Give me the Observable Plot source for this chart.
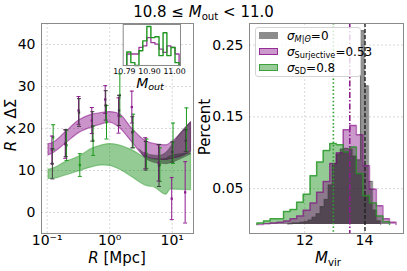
<!DOCTYPE html>
<html><head><meta charset="utf-8">
<script src="https://cdn.jsdelivr.net/npm/d3@7"></script>
<script src="https://cdn.jsdelivr.net/npm/@observablehq/plot@0.6"></script>
<style>
body{margin:0;background:#fff;}
#root{position:relative;width:407px;height:271px;font-family:'DejaVu Sans',sans-serif;color:#000;overflow:hidden;}
.abs{position:absolute;}
.lbl{position:absolute;white-space:nowrap;font-size:15px;line-height:14px;transform:translate(-50%,-50%);}
.rot{transform:translate(-50%,-50%) rotate(-90deg);}
sub{font-size:0.68em;vertical-align:-0.25em;line-height:0;}
.leg{position:absolute;left:255px;top:27px;width:104px;height:48px;border:1px solid #d4d4d4;border-radius:3px;background:rgba(255,255,255,0.8);}
.ent{position:absolute;left:0;height:16px;font-size:12px;line-height:16px;white-space:nowrap;}
.pat{position:absolute;left:3px;top:4px;width:19px;height:7px;}
.txt{position:absolute;left:31px;top:0;}
</style>
</head><body>
<div id="root">
  <div id="left" class="abs" style="left:0;top:0;width:200px;height:271px"></div>
  <div id="right" class="abs" style="left:200px;top:0;width:207px;height:271px"></div>
  <div id="inset" class="abs" style="left:105px;top:0;width:90px;height:90px"></div>
  <div class="abs" style="left:0;top:2px;width:407px;text-align:center;font-size:15px;line-height:20px">10.8 ≤ <i>M</i><sub>out</sub> &lt; 11.0</div>
  <div class="lbl" style="left:150px;top:83px;font-size:14px;line-height:14px"><i>M</i><sub><i>out</i></sub></div>
  <div class="lbl" style="left:117px;top:258px"><i>R</i> [Mpc]</div>
  <div class="lbl" style="left:328px;top:258px"><i>M</i><sub>vir</sub></div>
  <div class="lbl rot" style="left:11px;top:125px"><i>R</i> × ΔΣ</div>
  <div class="lbl rot" style="left:205px;top:127px">Percent</div>
  <div class="leg">
    <div class="ent" style="top:0px"><div class="pat" style="background:rgba(0,0,0,0.45)"></div><div class="txt"><i>σ</i><sub><i>M</i>|<i>Θ</i></sub>=0</div></div>
    <div class="ent" style="top:16px"><div class="pat" style="background:rgba(128,0,128,0.4);border:1px solid rgba(128,0,128,0.7);box-sizing:border-box"></div><div class="txt"><i>σ</i><sub>Surjective</sub>=0.53</div></div>
    <div class="ent" style="top:32px"><div class="pat" style="background:rgba(0,128,0,0.4);border:1px solid rgba(0,128,0,0.6);box-sizing:border-box"></div><div class="txt"><i>σ</i><sub>SD</sub>=0.8</div></div>
  </div>
</div>
<script>
// ---------- Left panel data ----------
const R = [0.121, 0.198, 0.323, 0.527, 0.863, 1.41, 2.30, 3.77, 6.15, 10.0, 16.4];
const purpleY   = [14.9, 16.3, 24.3, 21.9, 26.9, 23.1, 25.1, 14.1, 11.8, 3.3, 4.8];
const purpleErr = [3.3, 3.4, 3.3, 3.1, 3.3, 4.2, 3.8, 3.7, 4.3, 5.0, 7.3];
const blackY    = [11.6, 16.5, 23.8, 20.5, 25.5, 24.3, 19.1, 13.5, 11.2, 14.4, 17.1];
const blackErr  = [3.6, 3.2, 3.3, 3.5, 3.5, 3.6, 3.7, 3.4, 5.0, 2.4, 2.6];
const greenY    = [17.9, 16.0, 11.3, 17.1, 21.5, 27.9, 19.4, 14.0, 11.4, 16.5, 19.7];
const greenErr  = [3.0, 3.6, 2.7, 3.5, 4.0, 5.1, 4.0, 3.5, 4.0, 4.8, 5.2];

const bandR    = [0.105, 0.121, 0.198, 0.323, 0.527, 0.76, 1.0, 1.41, 2.30, 3.77, 6.15, 8.0, 10.0, 13.0, 20.0];
const purpleLo = [13.6, 14.0, 16.4, 18.9, 20.3, 21.0, 21.4, 20.3, 16.7, 13.2, 12.6, 12.5, 12.8, 13.2, 14.5];
const purpleHi = [16.3, 16.5, 19.1, 21.9, 23.3, 23.7, 23.9, 23.5, 19.9, 17.0, 16.1, 16.0, 16.8, 18.3, 21.5];
const greyR    = [3.0, 3.77, 6.15, 8.0, 10.0, 13.0, 20.0];
const greyLo   = [15.0, 12.8, 11.6, 11.5, 11.8, 12.5, 13.8];
const greyHi   = [15.0, 14.0, 13.5, 14.2, 16.0, 18.5, 21.5];
const greenR   = [0.105, 0.121, 0.198, 0.323, 0.527, 0.76, 1.0, 1.41, 2.30, 3.77, 5.5, 6.3, 8.0, 9.5, 13.0, 20.0];
const greenLo  = [8.0, 8.0, 8.8, 9.8, 10.8, 11.2, 11.1, 10.3, 8.4, 6.4, 5.8, 5.1, 4.2, 5.5, 5.4, 5.3];
const greenHi  = [10.2, 10.4, 12.0, 13.3, 15.2, 16.0, 16.3, 16.0, 14.8, 13.0, 12.6, 12.6, 12.8, 13.4, 13.8, 14.0];

const xTicksL = [0.1, 1, 10];
const xTickLabelsL = ["10⁻¹", "10⁰", "10¹"];
const yTicksL = [0, 10, 20, 30, 40];

// ---------- Inset data ----------
const insetEdges = [10.800, 10.817, 10.834, 10.851, 10.867, 10.884, 10.901, 10.918, 10.935, 10.952, 10.968, 10.985, 11.002, 11.019];
const insetGreen  = [0.33, 0.07, 0.0, 0.36, 0.60, 0.95, 0.68, 0.70, 0.24, 0.80, 0.24, 0.44, 0.07];
const insetPurple = [0.28, 0.28, 0.28, 0.44, 0.48, 0.68, 0.56, 0.52, 0.40, 0.32, 0.48, 0.44, 0.28];
const insetTicks = [10.79, 10.895, 11.0];
const insetTickLabels = ["10.79", "10.90", "11.00"];

// ---------- Right panel data ----------
const greenEdges = [10.40, 10.62, 10.84, 11.07, 11.29, 11.51, 11.73, 11.95, 12.18, 12.40, 12.62, 12.84, 13.06, 13.29, 13.51, 13.73, 13.95, 14.17, 14.40, 14.62, 14.84];
const greenPct   = [0.002, 0.005, 0.008, 0.008, 0.018, 0.021, 0.031, 0.042, 0.068, 0.087, 0.103, 0.113, 0.111, 0.101, 0.108, 0.071, 0.040, 0.030, 0.012, 0.004];
const purpleEdges = [10.40, 10.62, 10.84, 11.07, 11.29, 11.51, 11.73, 11.95, 12.18, 12.40, 12.62, 12.84, 13.06, 13.29, 13.51, 13.73, 13.95, 14.17, 14.40, 14.62, 14.84, 15.06];
const purplePct   = [0.0, 0.001, 0.002, 0.003, 0.005, 0.008, 0.012, 0.020, 0.030, 0.045, 0.060, 0.085, 0.100, 0.132, 0.138, 0.125, 0.082, 0.049, 0.026, 0.008, 0.003];
const greyEdges = [11.44, 11.575, 11.71, 11.845, 11.98, 12.115, 12.25, 12.385, 12.52, 12.655, 12.79, 12.925, 13.06, 13.195, 13.33, 13.465, 13.6, 13.735, 13.87, 14.005, 14.14, 14.275, 14.41, 14.545];
const greyPct   = [0.001, 0.002, 0.002, 0.003, 0.004, 0.006, 0.010, 0.015, 0.025, 0.035, 0.055, 0.085, 0.098, 0.105, 0.106, 0.105, 0.095, 0.090, 0.270, 0.193, 0.060, 0.020, 0.005];
const medians = [{m: 12.96, c: "#2ca02c", dash: "1.5,2.2", w: 1.6}, {m: 13.51, c: "#8e1f8e", dash: "6,2,1.5,2", w: 1.6}, {m: 14.02, c: "#222", dash: "4,2", w: 1.4}];
const xTicksR = [12, 14];
const yTicksR = [0.05, 0.15, 0.25];

// ---------- helpers ----------
const capSym = {draw(ctx, size) { const r = Math.sqrt(size / Math.PI); ctx.moveTo(-r, 0); ctx.lineTo(r, 0); }};
const zipBand = (xs, lo, hi) => xs.map((x, i) => ({x, lo: lo[i], hi: hi[i]}));
const errRows = (Y, E) => R.map((r, i) => ({x: r, y: Y[i], lo: Y[i] - E[i], hi: Y[i] + E[i]}));
function stepPts(edges, vals) {
  const p = [{x: edges[0], y: 0}];
  vals.forEach((v, i) => p.push({x: edges[i], y: v}));
  p.push({x: edges[vals.length], y: vals[vals.length - 1]});
  p.push({x: edges[vals.length], y: 0});
  return p;
}
function errMarks(rows, c, dx) {
  return [
    Plot.ruleX(rows, {x: "x", y1: "lo", y2: "hi", stroke: c, strokeWidth: 1, dx}),
    Plot.dot(rows, {x: "x", y: "lo", symbol: capSym, r: 2, stroke: c, fill: "none", strokeWidth: 1, dx}),
    Plot.dot(rows, {x: "x", y: "hi", symbol: capSym, r: 2, stroke: c, fill: "none", strokeWidth: 1, dx}),
    Plot.dot(rows, {x: "x", y: "y", symbol: "square", r: 1.3, fill: c, stroke: "none", dx})
  ];
}
const gridStyle = {stroke: "#cfcfcf", strokeWidth: 0.8, strokeDasharray: "2,2"};
const baseStyle = {fontFamily: "DejaVu Sans", fontSize: "14px", background: "none", overflow: "visible", color: "#000"};

// ---------- Left ----------
const left = Plot.plot({
  width: 200, height: 271,
  marginLeft: 41, marginRight: 7, marginTop: 23, marginBottom: 38,
  style: baseStyle,
  x: {type: "log", domain: [0.0811, 21.9], ticks: xTicksL, tickFormat: d => xTickLabelsL[xTicksL.indexOf(d)], tickSize: 0, tickPadding: 2, label: null},
  y: {domain: [-5, 45], ticks: yTicksL, tickSize: 0, tickPadding: 6, label: null},
  marks: [
    Plot.ruleX(xTicksL, gridStyle),
    Plot.ruleY(yTicksL, gridStyle),
    Plot.areaY(zipBand(greenR, greenLo, greenHi), {x: "x", y1: "lo", y2: "hi", curve: "monotone-x", fill: "#008000", fillOpacity: 0.42, stroke: "#2e9e2e", strokeOpacity: 0.45, strokeWidth: 1.2}),
    Plot.areaY(zipBand(bandR, purpleLo, purpleHi), {x: "x", y1: "lo", y2: "hi", curve: "monotone-x", fill: "#800080", fillOpacity: 0.42, stroke: "#800080", strokeOpacity: 0.5, strokeWidth: 1.2}),
    Plot.areaY(zipBand(greyR, greyLo, greyHi), {x: "x", y1: "lo", y2: "hi", curve: "monotone-x", fill: "#000", fillOpacity: 0.38, stroke: "#333", strokeOpacity: 0.3, strokeWidth: 1}),
    ...errMarks(errRows(greenY, greenErr), "#1a9a1a", 0.8),
    ...errMarks(errRows(purpleY, purpleErr), "#8e1a8e", -0.5),
    ...errMarks(errRows(blackY, blackErr), "#3c3c3c", 0),
    Plot.frame({stroke: "#8a8a8a", strokeWidth: 1})
  ]
});
document.getElementById("left").appendChild(left);

// ---------- Inset ----------
const inset = Plot.plot({
  width: 90, height: 90,
  marginLeft: 17.7, marginRight: 15, marginTop: 24, marginBottom: 25,
  style: {...baseStyle, fontSize: "7.8px"},
  x: {domain: [10.785, 11.025], ticks: insetTicks, tickFormat: d => insetTickLabels[insetTicks.indexOf(d)], tickSize: 0, tickPadding: 3, label: null},
  y: {domain: [0, 1.0], axis: null},
  marks: [
    Plot.frame({fill: "white", stroke: "none"}),
    Plot.line(stepPts(insetEdges, insetPurple), {x: "x", y: "y", curve: "step-after", stroke: "#9a3a9a", strokeWidth: 1.3}),
    Plot.line(stepPts(insetEdges, insetGreen), {x: "x", y: "y", curve: "step-after", stroke: "#1f961f", strokeWidth: 1.4}),
    Plot.frame({stroke: "#8a8a8a", strokeWidth: 1})
  ]
});
document.getElementById("inset").appendChild(inset);

// ---------- Right ----------
const right = Plot.plot({
  width: 207, height: 271,
  marginLeft: 49, marginRight: 4, marginTop: 23, marginBottom: 38,
  style: baseStyle,
  x: {domain: [10.15, 15.31], ticks: xTicksR, tickFormat: d => String(d), tickSize: 0, tickPadding: 2, label: null},
  y: {domain: [-0.0125, 0.28], ticks: yTicksR, tickFormat: d => d.toFixed(2), tickSize: 0, tickPadding: 6, label: null},
  marks: [
    Plot.ruleX(xTicksR, gridStyle),
    Plot.ruleY(yTicksR, gridStyle),
    Plot.areaY(stepPts(greenEdges, greenPct), {x: "x", y: "y", curve: "step-after", fill: "#008000", fillOpacity: 0.42}),
    Plot.areaY(stepPts(purpleEdges, purplePct), {x: "x", y: "y", curve: "step-after", fill: "#800080", fillOpacity: 0.4}),
    Plot.areaY(stepPts(greyEdges, greyPct), {x: "x", y: "y", curve: "step-after", fill: "#000", fillOpacity: 0.42}),
    Plot.line(stepPts(greyEdges, greyPct), {x: "x", y: "y", curve: "step-after", stroke: "#444", strokeOpacity: 0.5, strokeWidth: 1.2}),
    Plot.line(stepPts(purpleEdges, purplePct), {x: "x", y: "y", curve: "step-after", stroke: "#800080", strokeOpacity: 0.55, strokeWidth: 1.5}),
    Plot.line(stepPts(greenEdges, greenPct), {x: "x", y: "y", curve: "step-after", stroke: "#1f961f", strokeOpacity: 0.75, strokeWidth: 1.5}),
    ...medians.map(d => Plot.ruleX([d.m], {stroke: d.c, strokeWidth: d.w, strokeDasharray: d.dash})),
    Plot.frame({stroke: "#8a8a8a", strokeWidth: 1})
  ]
});
document.getElementById("right").appendChild(right);
</script>
</body></html>
